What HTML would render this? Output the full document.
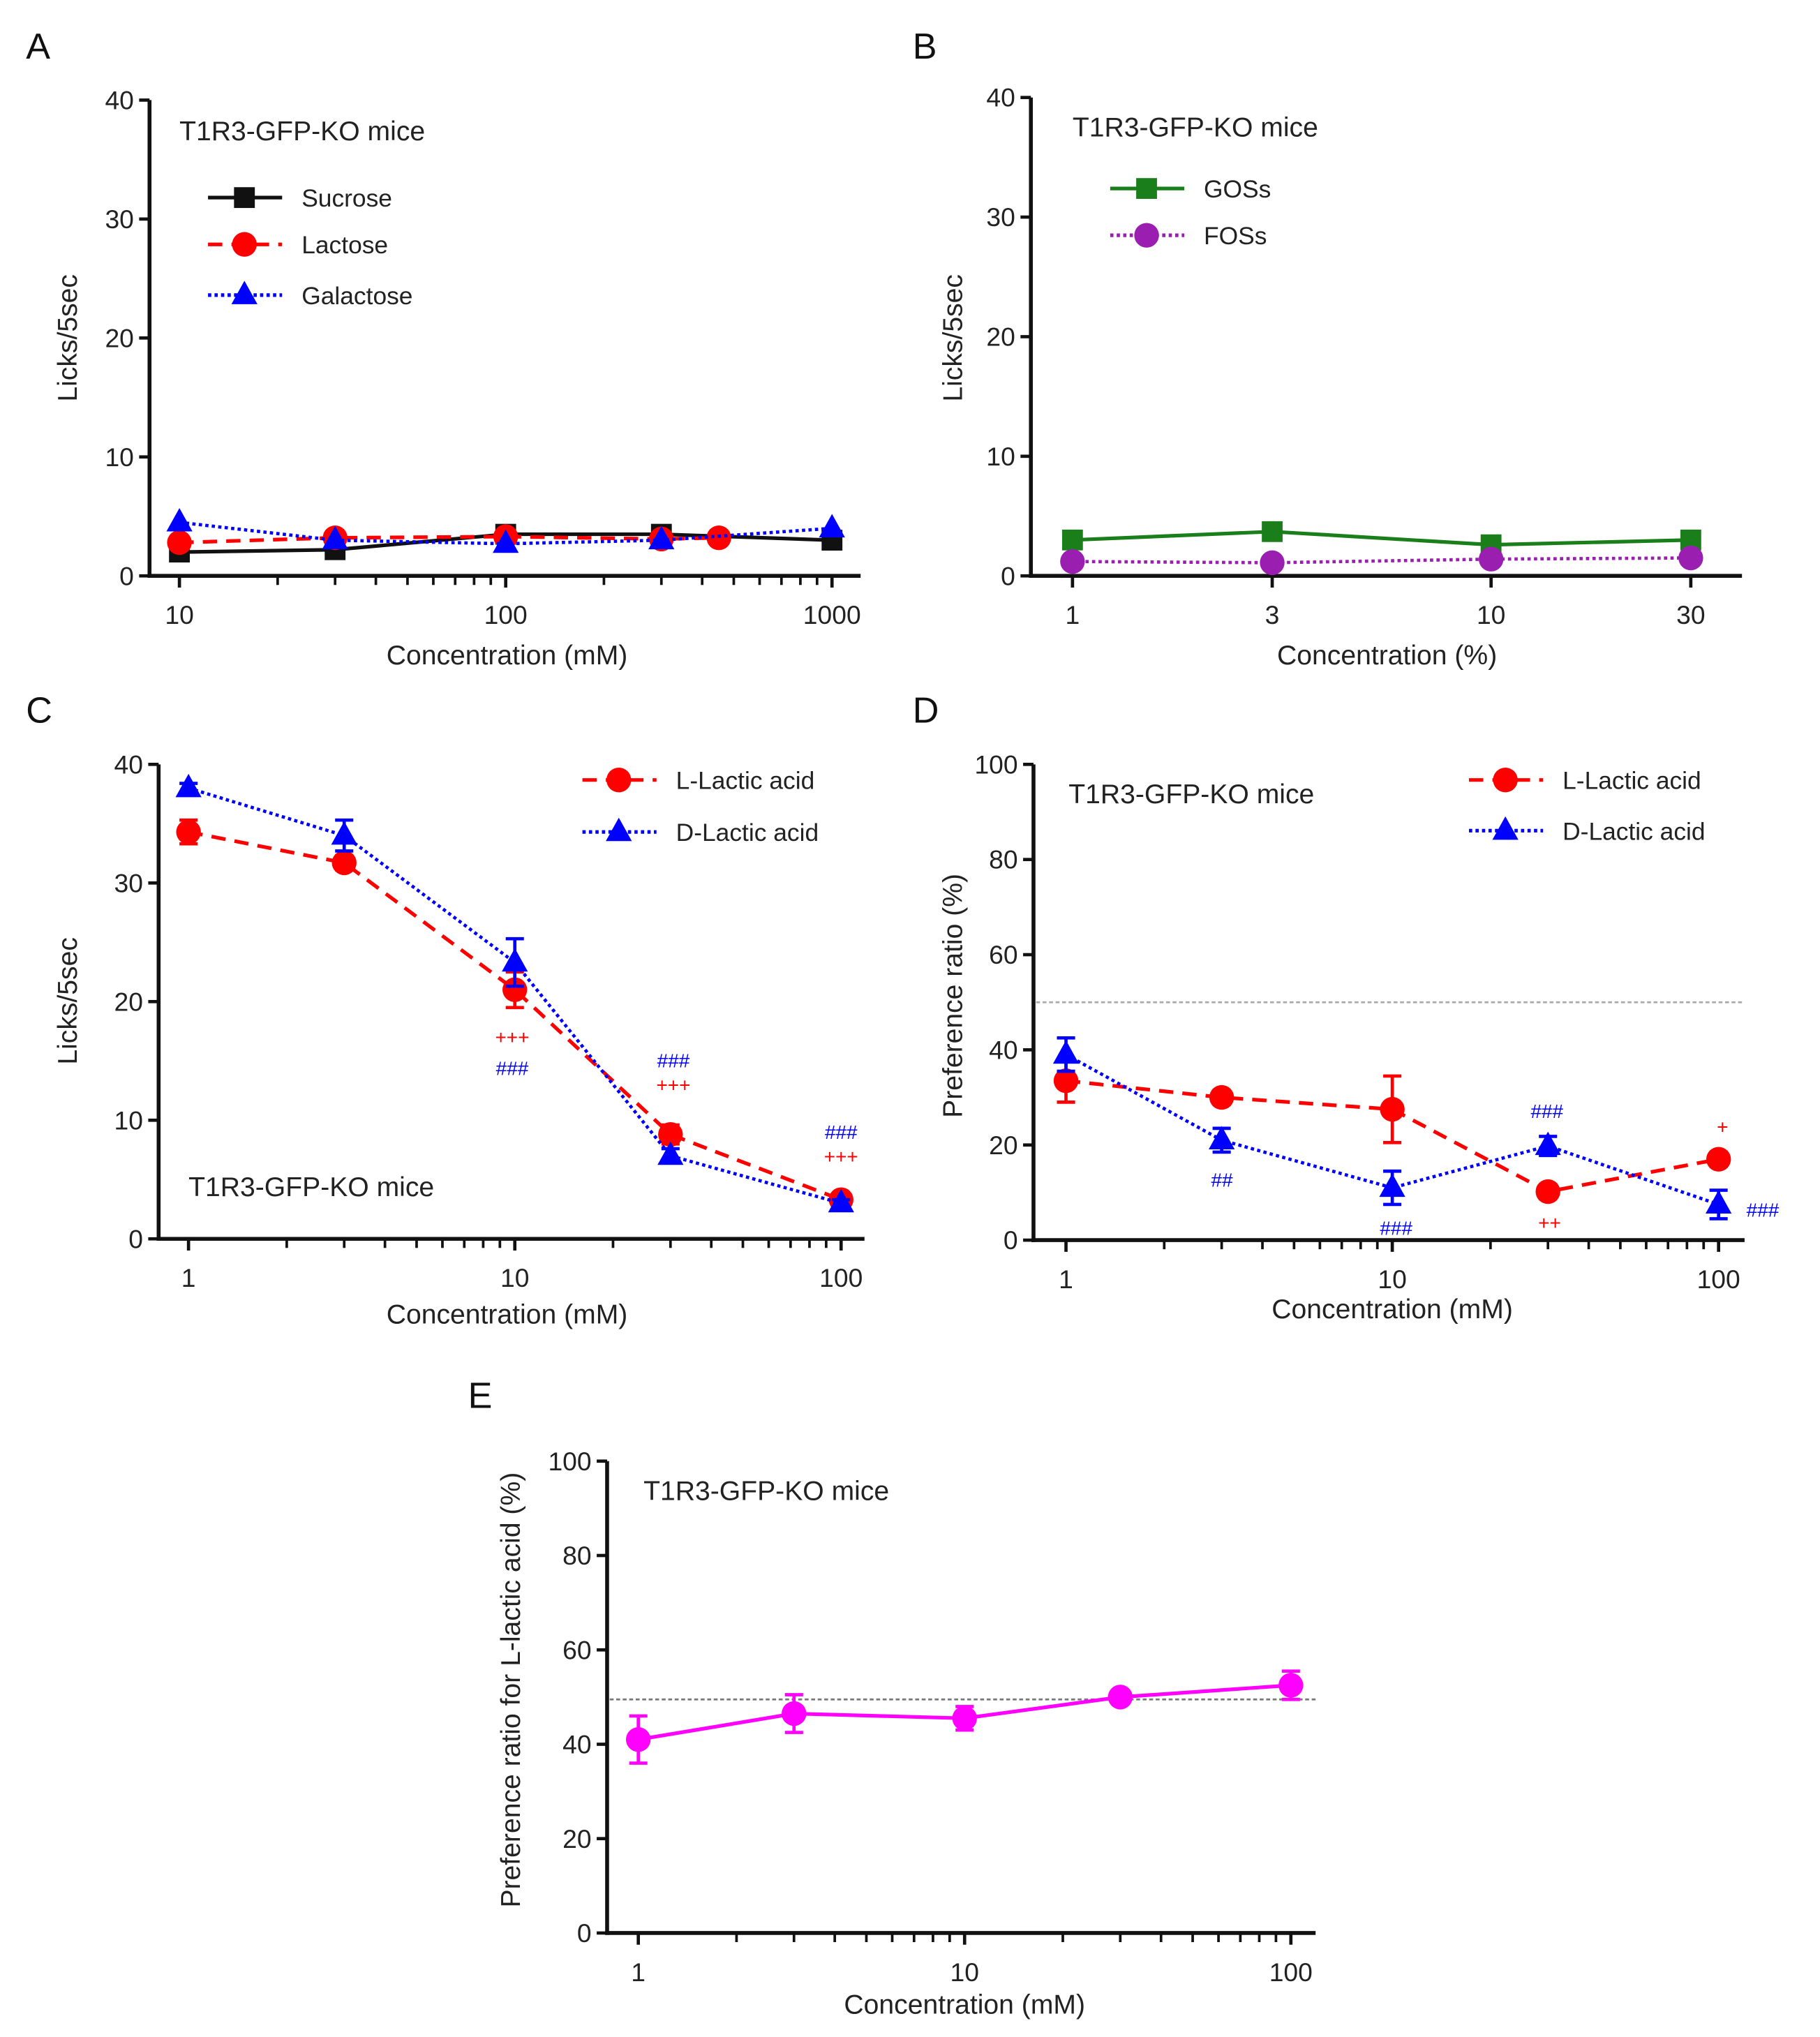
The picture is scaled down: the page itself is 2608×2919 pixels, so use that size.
<!DOCTYPE html>
<html><head><meta charset="utf-8"><style>
html,body{margin:0;padding:0;background:#fff}
svg{display:block}
text{font-family:"Liberation Sans",sans-serif}
</style></head><body>
<svg id="fig" width="2608" height="2919" viewBox="0 0 1400 1567"></svg>
<script>
// ---- data ----
const aConc=[10,30,100,300,1000];
const aSucrose=[2,2.2,3.5,3.5,3];
const aLactoseConc=[10,30,100,300,450];
const aLactose=[2.8,3.2,3.3,3.1,3.2];
const aGalactose=[4.5,3,2.7,3,4];
const bConc=[1,3,10,30];
const bGOS=[3,3.7,2.6,3];
const bFOS=[1.2,1.1,1.4,1.5];
const cConc=[1,3,10,30,100];
const cL=[34.3,31.7,21,8.8,3.3];
const cLerr=[1,0.6,1.5,0.8,0.3];
const cD=[38,34,23.3,7,3];
const cDerr=[0.4,1.3,2,0.6,0.3];
const dL=[33.5,30,27.5,10.2,17];
const dLerr=[4.5,1.5,7,1.5,1.5];
const dD=[39,21,11,19.8,7.5];
const dDerr=[3.5,2.5,3.5,2,3];
const eConc=[1,3,10,30,100];
const eVal=[41,46.5,45.5,50,52.5];
const eErr=[5,4,2.5,1.2,3];
const yTicks40=[0,10,20,30,40];
const yTicks100=[0,20,40,60,80,100];
const ns="http://www.w3.org/2000/svg";
const svg=document.getElementById('fig');
function mk(tag,attrs,parent){const e=document.createElementNS(ns,tag);for(const k in attrs)e.setAttribute(k,attrs[k]);(parent||svg).appendChild(e);return e;}
function txt(s,x,y,size,anchor,fill,parent,rot){const t=mk('text',{x:x,y:y,'font-size':size,'text-anchor':anchor||'start'},parent);t.style.fill=fill||'#222';if(rot)t.setAttribute('transform',`rotate(-90 ${x} ${y})`);t.textContent=s;return t;}
function axes(c){
  const g=mk('g',{});
  
  
  c.sx=v=>c.x0+(Math.log10(v)-Math.log10(c.xmin))*c.dec;
  c.sy=v=>c.y0-(v-c.ymin)/(c.ymax-c.ymin)*(c.y0-c.y1);
  c.g=g;
  const ya=mk('line',{x1:c.ax,y1:c.y1,x2:c.ax,y2:c.y0+1.5,stroke:'#111','stroke-width':3},g);
  
  const xa=mk('line',{x1:c.ax-1.5,y1:c.y0,x2:c.xend,y2:c.y0,stroke:'#111','stroke-width':3},g);
  
  c.yt.forEach(v=>{const y=c.sy(v);mk('line',{x1:c.ax-8,y1:y,x2:c.ax,y2:y,stroke:'#111','stroke-width':2.5},g);
    const t=txt(String(v),c.ax-12,y+7,20,'end','#222',g);});
  c.xt.forEach(v=>{const x=c.sx(v);mk('line',{x1:x,y1:c.y0,x2:x,y2:c.y0+9,stroke:'#111','stroke-width':2.5},g);
    const t=txt(String(v),x,c.y0+37,20,'middle','#222',g);});
  if(c.minor){let d=Math.pow(10,Math.floor(Math.log10(c.xmin)));
    for(let p=d;p<c.xmax*10;p*=10)for(let m=1;m<10;m++){const v=p*m;const x=c.sx(v);if(x<c.ax+3||x>c.xend-2)continue;if(c.xt.includes(v))continue;mk('line',{x1:x,y1:c.y0,x2:x,y2:c.y0+7,stroke:'#111','stroke-width':2},g);}}
  const xl=txt(c.xlabel,c.xlx,c.xly,21,'middle','#222',g);
  const yl=txt(c.ylabel,c.ylx,c.yly,21,'middle','#222',g,true);
  const pl=txt(c.letter,c.lx,c.ly,28,'start','#111',g);
  if(c.title){const tt=txt(c.title,c.tx,c.ty,21,'start','#222',g);}
  return c;
}
function marker(g,shape,x,y,col){
  if(shape==='sq')return mk('rect',{x:x-8,y:y-8,width:16,height:16,fill:col},g);
  if(shape==='ci')return mk('circle',{cx:x,cy:y,r:9.5,fill:col},g);
  return mk('polygon',{points:`${x},${y-11} ${x-10},${y+7} ${x+10},${y+7}`,fill:col},g);
}
function dash(style){return style==='dash'?'11,7':style==='dot'?'2.5,2.5':'none';}
function series(c,name,xs,ys,errs,col,style,shape){
  const g=mk('g',{},c.g);
  
  
  const pts=xs.map((v,i)=>`${c.sx(v)},${c.sy(ys[i])}`).join(' ');
  mk('polyline',{points:pts,fill:'none',stroke:col,'stroke-width':style==='dot'?2.5:2.8,'stroke-dasharray':dash(style)},g);
  xs.forEach((v,i)=>{const x=c.sx(v);
    if(errs){const a=c.sy(ys[i]+errs[i]),b=c.sy(ys[i]-errs[i]);
      mk('line',{x1:x,y1:a,x2:x,y2:b,stroke:col,'stroke-width':2.5},g);
      mk('line',{x1:x-7,y1:a,x2:x+7,y2:a,stroke:col,'stroke-width':2.5},g);
      mk('line',{x1:x-7,y1:b,x2:x+7,y2:b,stroke:col,'stroke-width':2.5},g);}
    const m=marker(g,shape,x,c.sy(ys[i]),col);
    
    
  });
}
function legend(c,label,x,y,col,style,shape){
  const g=mk('g',{},c.g);
  
  
  mk('line',{x1:x,y1:y,x2:x+57,y2:y,stroke:col,'stroke-width':2.8,'stroke-dasharray':dash(style)},g);
  marker(g,shape,x+28,y,col);
  txt(label,x+72,y+7,19,'start','#222',g);
}
function note(c,s,x,y,col){const t=txt(s,x,y,15,'middle',col,c.g);}

// Panel A
const A=axes({name:'panel-a',ax:115,x0:138,dec:251,xmin:10,xmax:1000,xend:662,y0:443,y1:77,ymin:0,ymax:40,yt:yTicks40,xt:[10,100,1000],minor:true,
  xlabel:'Concentration (mM)',xlx:390,xly:511,ylabel:'Licks/5sec',ylx:59,yly:260,letter:'A',lx:20,ly:45,title:'T1R3-GFP-KO mice',tx:138,ty:108});
series(A,'sucrose-series',aConc,aSucrose,null,'#111','solid','sq');
series(A,'lactose-series',aLactoseConc,aLactose,null,'#f00','dash','ci');
series(A,'galactose-series',aConc,aGalactose,null,'#00f','dot','tri');
legend(A,'Sucrose',160,152,'#111','solid','sq');
legend(A,'Lactose',160,188,'#f00','dash','ci');
legend(A,'Galactose',160,227,'#00f','dot','tri');

// Panel B
const B=axes({name:'panel-b',ax:793,x0:825,dec:322,xmin:1,xmax:30,xend:1340,y0:443,y1:75,ymin:0,ymax:40,yt:yTicks40,xt:[1,3,10,30],minor:false,
  xlabel:'Concentration (%)',xlx:1067,xly:511,ylabel:'Licks/5sec',ylx:740,yly:260,letter:'B',lx:702,ly:45,title:'T1R3-GFP-KO mice',tx:825,ty:105});
series(B,'goss-series',bConc,bGOS,null,'#1a7f1a','solid','sq');
series(B,'foss-series',bConc,bFOS,null,'#9a1fb0','dot','ci');
legend(B,'GOSs',854,145,'#1a7f1a','solid','sq');
legend(B,'FOSs',854,181,'#9a1fb0','dot','ci');

// Panel C
const C=axes({name:'panel-c',ax:122,x0:145,dec:251,xmin:1,xmax:100,xend:665,y0:953,y1:588,ymin:0,ymax:40,yt:yTicks40,xt:[1,10,100],minor:true,
  xlabel:'Concentration (mM)',xlx:390,xly:1018,ylabel:'Licks/5sec',ylx:59,yly:770,letter:'C',lx:20,ly:556,title:'T1R3-GFP-KO mice',tx:145,ty:920});
series(C,'l-lactic-series',cConc,cL,cLerr,'#f00','dash','ci');
series(C,'d-lactic-series',cConc,cD,cDerr,'#00f','dot','tri');
legend(C,'L-Lactic acid',448,600,'#f00','dash','ci');
legend(C,'D-Lactic acid',448,640,'#00f','dot','tri');
note(C,'+++',394,803,'#f00');note(C,'###',394,827,'#00f');
note(C,'###',518,821,'#00f');note(C,'+++',518,840,'#f00');
note(C,'###',647,876,'#00f');note(C,'+++',647,895,'#f00');

// Panel D
const D=axes({name:'panel-d',ax:795,x0:820,dec:251,xmin:1,xmax:100,xend:1342,y0:954,y1:588,ymin:0,ymax:100,yt:yTicks100,xt:[1,10,100],minor:true,
  xlabel:'Concentration (mM)',xlx:1071,xly:1014,ylabel:'Preference ratio (%)',ylx:740,yly:766,letter:'D',lx:702,ly:556,title:'T1R3-GFP-KO mice',tx:822,ty:618});
mk('line',{x1:797,y1:D.sy(50),x2:1342,y2:D.sy(50),stroke:'#aaa','stroke-width':1.5,'stroke-dasharray':'3,2'},D.g);
series(D,'l-lactic-series',cConc,dL,dLerr,'#f00','dash','ci');
series(D,'d-lactic-series',cConc,dD,dDerr,'#00f','dot','tri');
legend(D,'L-Lactic acid',1130,600,'#f00','dash','ci');
legend(D,'D-Lactic acid',1130,639,'#00f','dot','tri');
note(D,'###',1190,860,'#00f');note(D,'##',940,913,'#00f');note(D,'###',1074,950,'#00f');
note(D,'###',1356,936,'#00f');note(D,'+',1325,872,'#f00');note(D,'++',1192,946,'#f00');

// Panel E
const E=axes({name:'panel-e',ax:467,x0:491,dec:251,xmin:1,xmax:100,xend:1012,y0:1487,y1:1124,ymin:0,ymax:100,yt:yTicks100,xt:[1,10,100],minor:true,
  xlabel:'Concentration (mM)',xlx:742,xly:1549,ylabel:'Preference ratio for L-lactic acid (%)',ylx:400,yly:1300,letter:'E',lx:360,ly:1083,title:'T1R3-GFP-KO mice',tx:495,ty:1154});
mk('line',{x1:469,y1:E.sy(49.5),x2:1012,y2:E.sy(49.5),stroke:'#777','stroke-width':1.5,'stroke-dasharray':'3,2'},E.g);
series(E,'l-lactic-preference-series',eConc,eVal,eErr,'#f0f','solid','ci');
</script>
</body></html>
